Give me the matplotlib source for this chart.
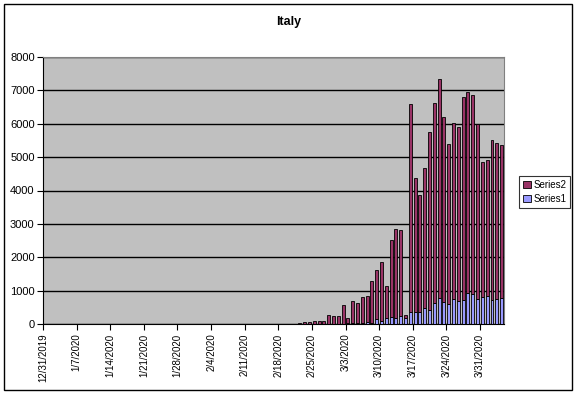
import pandas as pd
import matplotlib.pyplot as plt
from matplotlib.patches import Rectangle

# Dates (one bar slot per day)
dates = pd.date_range('2019-12-31', '2020-04-04', freq='D')

# Series1 (blue, bottom) and Series2 (maroon, stacked on top)
series1 = [0, 0, 0, 0, 0, 0, 0, 0, 0, 0,
           0, 0, 0, 0, 0, 0, 0, 0, 0, 0,
           0, 0, 0, 0, 0, 0, 0, 0, 0, 0,
           0, 0, 0, 0, 0, 0, 0, 0, 0, 0,
           0, 0, 0, 0, 0, 0, 0, 0, 0, 0,
           0, 0, 0,
           1, 2, 3, 1, 5, 2, 5, 4, 8,
           10, 15, 25, 30, 40, 50, 40, 140, 100, 170,
           200, 190, 250, 175, 370, 350, 345, 475, 430, 630,
           790, 650, 600, 740, 680, 710, 920, 890, 760, 810,
           840, 730, 760, 770]
series2 = [0, 0, 0, 0, 0, 0, 0, 0, 0, 0,
           0, 0, 0, 0, 0, 0, 0, 0, 0, 0,
           0, 0, 0, 0, 0, 0, 0, 0, 0, 0,
           0, 0, 0, 0, 0, 0, 0, 0, 0, 0,
           0, 0, 0, 0, 0, 0, 0, 0, 0, 0,
           0, 0, 0,
           40, 60, 60, 90, 90, 90, 255, 235, 235,
           550, 165, 655, 600, 760, 780, 1240, 1490, 1770, 980,
           2310, 2660, 2560, 105, 6220, 4030, 3525, 4205, 5320, 6000,
           6550, 5550, 4790, 5270, 5220, 6090, 6020, 5970, 5230, 4050,
           4080, 4790, 4650, 4590]

tick_labels = ['12/31/2019', '1/7/2020', '1/14/2020', '1/21/2020', '1/28/2020',
               '2/4/2020', '2/11/2020', '2/18/2020', '2/25/2020', '3/3/2020',
               '3/10/2020', '3/17/2020', '3/24/2020', '3/31/2020']

plt.rcParams['font.family'] = ['Liberation Sans', 'DejaVu Sans']

fig = plt.figure(figsize=(5.77, 3.95), dpi=100)
ax = fig.add_axes([43 / 577, 1 - 324 / 395, (504 - 43) / 577, (324 - 57) / 395])
ax.set_facecolor('#C0C0C0')

x = [i + 0.5 for i in range(len(dates))]
b1 = ax.bar(x, series1, width=0.62, color='#9999FF', edgecolor='black', linewidth=0.6,
            label='Series1', zorder=3)
b2 = ax.bar(x, series2, bottom=series1, width=0.62, color='#993366', edgecolor='black',
            linewidth=0.6, label='Series2', zorder=3)

ax.set_xlim(0, len(dates))
ax.set_ylim(0, 8000)
ax.set_yticks(range(0, 8001, 1000))
ax.set_xticks(range(0, 7 * len(tick_labels), 7))
ax.set_xticklabels(tick_labels, rotation=90, fontsize=7)
ax.tick_params(axis='y', labelsize=8, direction='out', length=4, width=0.8, pad=2)
ax.tick_params(axis='x', direction='out', length=4, width=0.8, pad=3)
ax.yaxis.grid(True, color='black', linewidth=1, zorder=1)
ax.set_axisbelow(True)

for s in ['top', 'right']:
    ax.spines[s].set_color('#808080')
for s in ['left', 'bottom']:
    ax.spines[s].set_color('black')

fig.text(289 / 577, 1 - 22 / 395, 'Italy', ha='center', va='center',
         fontsize=9, fontweight='bold')

leg = fig.legend([b2, b1], ['Series2', 'Series1'], loc='upper left',
                 bbox_to_anchor=(519 / 577, 1 - 176 / 395), fontsize=7,
                 frameon=True, fancybox=False, handlelength=0.8, handleheight=0.8,
                 handletextpad=0.3, borderpad=0.4, labelspacing=0.4, borderaxespad=0)
leg.get_frame().set_edgecolor('black')
leg.get_frame().set_linewidth(0.8)

fig.patches.append(Rectangle((4 / 577, 1 - 390 / 395), 568 / 577, 386 / 395,
                             transform=fig.transFigure, fill=False,
                             edgecolor='black', linewidth=1))

plt.savefig('out.png', dpi=100)
